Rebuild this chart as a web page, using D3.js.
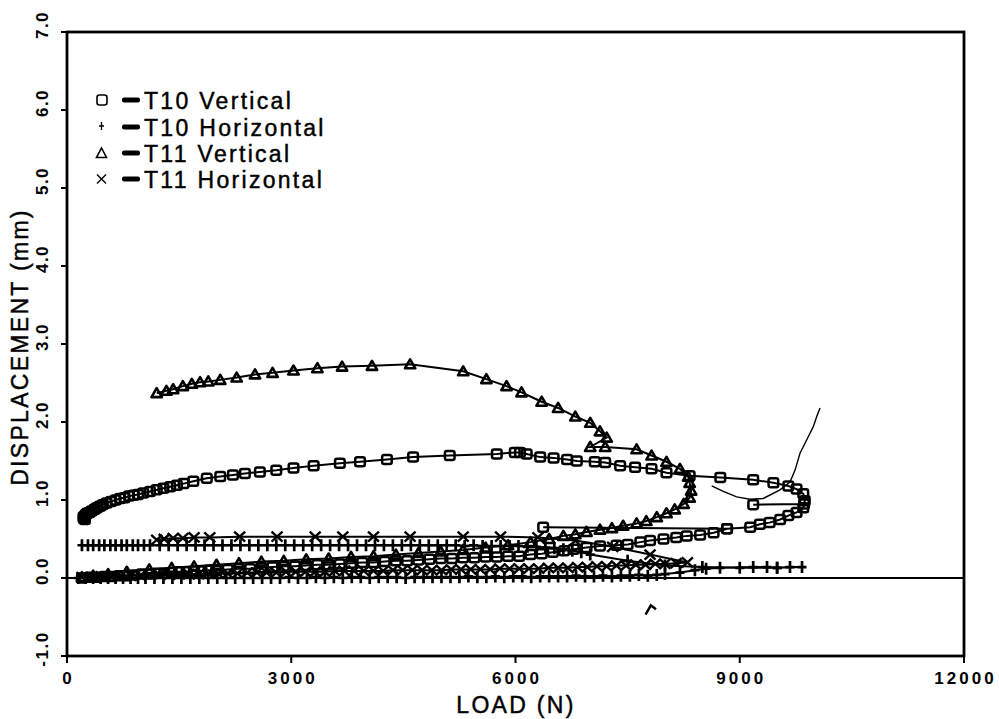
<!DOCTYPE html>
<html>
<head>
<meta charset="utf-8">
<script src="https://cdn.jsdelivr.net/npm/d3@7"></script>
<style>
  html, body { margin: 0; padding: 0; background: #fff; }
  svg { display: block; }
  text { font-family: "Liberation Sans", Arial, Helvetica, sans-serif; fill: #000; }
</style>
</head>
<body>
<svg id="chart" width="999" height="719"></svg>
<script>
// ---------------- DATA ----------------
const xTicks = [0, 3000, 6000, 9000, 12000];
const xTickLabels = ["0", "3000", "6000", "9000", "12000"];
const yTicks = [-1, 0, 1, 2, 3, 4, 5, 6, 7];
const yTickLabels = ["-1.0", "0.0", "1.0", "2.0", "3.0", "4.0", "5.0", "6.0", "7.0"];
const xTitle = "LOAD (N)";
const yTitle = "DISPLACEMENT (mm)";
const legendLabels = ["T10 Vertical", "T10 Horizontal", "T11 Vertical", "T11 Horizontal"];

// T10 Vertical (squares); null = break in the line
const t10vLoad = [200,300,400,500,600,700,800,900,1000,1100,1200,1300,1400,1500,1600,1700,1800,1900,2000,2150,2300,2450,2600,2750,2900,3050,3200,3350,3500,3650,3800,3950,4100,4250,4400,4550,4700,4850,5000,5150,5300,5450,5600,5750,5900,6050,6200,6350,6500,6650,6780,6950,7130,7350,7500,7670,7800,7980,8150,8290,8470,8650,8830,9140,9270,9400,9540,9650,9760,9850,9870,9850,9760,9650,9450,9180,8740,8330,8020,7820,7600,7400,7200,7060,6820,6690,6510,6330,6150,6060,5990,5750,5120,4630,4280,3920,3650,3300,3030,2800,2580,2380,2220,2050,1870,1690,1560,1470,1380,1290,1200,1110,1020,950,890,830,770,710,650,590,530,480,440,400,370,330,300,270,250,230,220,225,240,
  null, 6370, 8830,
  null, 9180, 9860];
const t10vDisp = [0.00,0.01,0.01,0.02,0.02,0.03,0.03,0.04,0.05,0.05,0.06,0.06,0.07,0.08,0.08,0.09,0.09,0.10,0.10,0.11,0.12,0.12,0.13,0.14,0.15,0.15,0.16,0.17,0.17,0.18,0.19,0.20,0.20,0.21,0.22,0.22,0.23,0.24,0.25,0.25,0.26,0.26,0.27,0.27,0.28,0.28,0.30,0.31,0.33,0.35,0.37,0.39,0.41,0.42,0.43,0.46,0.48,0.50,0.52,0.54,0.55,0.58,0.63,0.65,0.69,0.71,0.75,0.80,0.84,0.90,0.99,1.08,1.14,1.18,1.22,1.26,1.29,1.31,1.35,1.40,1.42,1.44,1.48,1.49,1.50,1.52,1.54,1.55,1.59,1.61,1.61,1.59,1.57,1.55,1.52,1.49,1.47,1.44,1.41,1.38,1.36,1.34,1.32,1.30,1.28,1.24,1.21,1.19,1.17,1.15,1.13,1.11,1.09,1.07,1.06,1.05,1.03,1.02,1.00,0.98,0.96,0.94,0.92,0.90,0.88,0.86,0.84,0.83,0.81,0.79,0.78,0.76,0.75,
  null, 0.65, 0.63,
  null, 0.94, 0.95];

// T10 Horizontal (plus)
const t10hLoad = [150,250,350,450,550,650,750,850,950,1050,
  1170,1290,1410,1530,1650,1770,1890,2010,2130,2250,
  2370,2490,2610,2730,2850,2970,3090,3210,3330,3450,
  3570,3690,3810,3930,4050,4170,4290,4410,4530,4650,
  4770,4890,5010,5130,5250,5370,5490,5610,5730,5850,
  5970,6090,6210,6330,6450,6570,6690,6810,6930,7050,
  7170,7290,7410,7530,7650,7770,7890,
  8000,8200,8400,8550,8736,
  9180,9365,9500,9672,9833,
  9500,9000,8500,8000,7500,
  7000,6880,6760,6640,6520,6400,6280,6160,6040,5920,
  5800,5680,5560,5440,5320,5200,5080,4960,4840,4720,
  4600,4480,4360,4240,4120,4000,3880,3760,3640,3520,
  3400,3280,3160,3040,2920,2800,2680,2560,2440,2320,
  2200,2080,1960,1840,1720,1600,1480,1360,1240,1110,
  1030,950,880,800,730,650,580,500,430,350,280,200];
const t10hDisp = [0.00,0.00,0.00,0.00,0.00,0.00,0.00,0.00,0.00,0.00,
  0.00,0.00,0.00,0.00,0.00,0.00,0.00,0.00,0.00,0.00,
  0.00,0.00,0.00,0.00,0.00,0.01,0.00,0.00,0.01,0.00,
  0.01,0.00,0.01,0.01,0.00,0.01,0.01,0.01,0.00,0.01,
  0.01,0.01,0.01,0.01,0.01,0.02,0.01,0.01,0.02,0.01,
  0.02,0.02,0.01,0.02,0.02,0.02,0.02,0.03,0.02,0.02,
  0.03,0.02,0.03,0.03,0.04,0.03,0.04,
  0.05,0.07,0.10,0.12,0.13,
  0.14,0.14,0.13,0.14,0.14,
  0.13,0.13,0.14,0.16,0.22,
  0.30,0.33,0.35,0.37,0.38,0.39,0.40,0.40,0.41,0.41,
  0.41,0.41,0.41,0.42,0.41,0.42,0.42,0.42,0.42,0.42,
  0.42,0.42,0.42,0.42,0.42,0.42,0.42,0.42,0.42,0.42,
  0.42,0.42,0.42,0.42,0.42,0.42,0.42,0.42,0.42,0.42,
  0.42,0.42,0.42,0.42,0.42,0.42,0.42,0.42,0.42,0.42,
  0.42,0.42,0.42,0.42,0.42,0.42,0.42,0.42,0.42,0.42,0.42,0.42];

// T11 Vertical (triangles)
const t11vLoad = [1200,1330,1420,1550,1670,1780,1890,2050,2270,2515,2750,3030,3350,3680,4080,4590,5300,5610,5880,6080,6350,6570,6800,7000,7130,7220,7000,7200,7620,7820,8020,8200,8310,8330,8350,8330,8250,8130,8020,7890,7750,7620,7440,7290,7130,6950,6800,6640,6450,6200,5900,5600,5300,5000,4700,4400,4100,3800,3500,3200,2900,2600,2300,2000,1700,1400,1100,800,550,350,200];
const t11vDisp = [2.37,2.40,2.42,2.46,2.49,2.51,2.52,2.54,2.57,2.61,2.63,2.66,2.69,2.71,2.72,2.74,2.65,2.55,2.46,2.38,2.26,2.18,2.07,1.99,1.88,1.80,1.68,1.68,1.65,1.57,1.49,1.40,1.30,1.22,1.12,1.03,0.95,0.88,0.83,0.78,0.73,0.70,0.67,0.64,0.62,0.59,0.56,0.54,0.50,0.46,0.42,0.39,0.36,0.34,0.32,0.30,0.28,0.27,0.25,0.24,0.22,0.21,0.19,0.17,0.15,0.13,0.11,0.08,0.05,0.03,0.01];

// T11 Horizontal (cross)
const t11hLoad = [200,330,460,590,720,850,980,1110,
  1240,1370,1500,1630,1760,1890,2020,2150,
  2280,2410,2540,2670,2800,2930,3060,3190,
  3320,3450,3580,3710,3840,3970,4100,4230,
  4360,4490,4620,4750,4880,5010,5140,5270,
  5400,5530,5660,5790,5920,6050,6180,6310,
  6440,6570,6700,6830,6960,7090,7220,7350,
  7480,7610,7740,7870,8000,8150,8300,
  7800,7300,6800,6300,5800,5300,4590,4100,3690,3320,2810,2310,1910,1700,1550,1420,1300,1200];
const t11hDisp = [0.01,0.01,0.02,0.02,0.03,0.03,0.03,0.04,
  0.04,0.04,0.05,0.05,0.05,0.06,0.06,0.06,
  0.06,0.07,0.07,0.07,0.07,0.08,0.08,0.08,
  0.08,0.08,0.09,0.09,0.09,0.09,0.09,0.09,
  0.10,0.10,0.10,0.10,0.10,0.10,0.11,0.11,
  0.11,0.11,0.11,0.12,0.12,0.12,0.12,0.12,
  0.13,0.13,0.13,0.14,0.14,0.15,0.15,0.16,
  0.16,0.17,0.17,0.18,0.18,0.19,0.20,
  0.30,0.40,0.48,0.52,0.53,0.53,0.53,0.53,0.53,0.53,0.53,0.53,0.52,0.52,0.51,0.51,0.50,0.49];

// Unmarked pen trace at right
const traceLoad = [8625,8780,8959,9137,9315,9538,9672,9739,9806,9895,9984,10030,10074];
const traceDisp = [1.18,1.11,1.04,1.01,1.02,1.13,1.23,1.38,1.60,1.77,1.94,2.07,2.18];

// Small caret mark below the zero line
const caretLoad = [7740,7810,7880];
const caretDisp = [-0.47,-0.35,-0.40];

// ---------------- DRAW ----------------
const svg = d3.select("#chart");
svg.append("rect").attr("width", 999).attr("height", 719).attr("fill", "#fff");

const x = d3.scaleLinear().domain([0, 12000]).range([67, 964]);
const y = d3.scaleLinear().domain([-1, 7]).range([656, 32]);

function zip(lx, ly) {
  return lx.map((v, i) => (v === null ? null : { x: v, y: ly[i] }));
}

const line = d3.line()
  .defined(d => d !== null)
  .x(d => x(d.x))
  .y(d => y(d.y));

// frame
svg.append("rect")
  .attr("x", x(0)).attr("y", y(7))
  .attr("width", x(12000) - x(0)).attr("height", y(-1) - y(7))
  .attr("fill", "none").attr("stroke", "#000").attr("stroke-width", 2.8);

// zero line
svg.append("line")
  .attr("x1", x(0)).attr("x2", x(12000))
  .attr("y1", y(0)).attr("y2", y(0))
  .attr("stroke", "#000").attr("stroke-width", 2.2);

// x ticks + labels
const gx = svg.append("g");
xTicks.forEach((t, i) => {
  gx.append("line").attr("x1", x(t)).attr("x2", x(t))
    .attr("y1", y(-1)).attr("y2", y(-1) + 7)
    .attr("stroke", "#000").attr("stroke-width", 2);
  gx.append("text").attr("x", x(t) + 1.5).attr("y", 684)
    .attr("text-anchor", "middle")
    .attr("font-size", 17).attr("font-weight", "bold")
    .attr("letter-spacing", 3)
    .text(xTickLabels[i]);
});

// y ticks + labels
const gy = svg.append("g");
yTicks.forEach((t, i) => {
  gy.append("line").attr("x1", x(0)).attr("x2", x(0) - 6)
    .attr("y1", y(t)).attr("y2", y(t))
    .attr("stroke", "#000").attr("stroke-width", 2);
  gy.append("text")
    .attr("transform", `translate(48,${y(t) - 7}) rotate(-90)`)
    .attr("text-anchor", "middle")
    .attr("font-size", 17).attr("font-weight", "bold")
    .attr("letter-spacing", 1.5)
    .text(yTickLabels[i]);
});

// axis titles
svg.append("text").attr("x", 516).attr("y", 713)
  .attr("text-anchor", "middle").attr("font-size", 23)
  .attr("letter-spacing", 2.3).attr("stroke", "#000").attr("stroke-width", 0.45)
  .text(xTitle);
svg.append("text")
  .attr("transform", "translate(28,347) rotate(-90)")
  .attr("text-anchor", "middle").attr("font-size", 23)
  .attr("letter-spacing", 2.3).attr("stroke", "#000").attr("stroke-width", 0.45)
  .text(yTitle);

// series
const series = [
  { name: legendLabels[0], data: zip(t10vLoad, t10vDisp), marker: "square" },
  { name: legendLabels[1], data: zip(t10hLoad, t10hDisp), marker: "plus" },
  { name: legendLabels[2], data: zip(t11vLoad, t11vDisp), marker: "triangle" },
  { name: legendLabels[3], data: zip(t11hLoad, t11hDisp), marker: "times" }
];

const plot = svg.append("g");

// thin pen trace
plot.append("path").datum(zip(traceLoad, traceDisp))
  .attr("d", line).attr("fill", "none").attr("stroke", "#000").attr("stroke-width", 1.4);
plot.append("path").datum(zip(caretLoad, caretDisp))
  .attr("d", line).attr("fill", "none").attr("stroke", "#000").attr("stroke-width", 2.4);

series.forEach(s => {
  plot.append("path").datum(s.data)
    .attr("d", line).attr("fill", "none").attr("stroke", "#000").attr("stroke-width", 2);
});

function drawMarker(g, type, cx, cy) {
  if (type === "square") {
    g.append("rect").attr("x", cx - 4.8).attr("y", cy - 4.5)
      .attr("width", 9.6).attr("height", 9).attr("rx", 2)
      .attr("fill", "none").attr("stroke", "#000").attr("stroke-width", 2.5);
  } else if (type === "triangle") {
    g.append("path")
      .attr("d", `M${cx},${cy - 5}L${cx + 5.2},${cy + 4}L${cx - 5.2},${cy + 4}Z`)
      .attr("fill", "none").attr("stroke", "#000").attr("stroke-width", 2.6).attr("stroke-linejoin", "round");
  } else if (type === "plus") {
    g.append("path")
      .attr("d", `M${cx - 4.5},${cy}H${cx + 4.5}M${cx},${cy - 6}V${cy + 6}`)
      .attr("fill", "none").attr("stroke", "#000").attr("stroke-width", 2.7);
  } else if (type === "times") {
    g.append("path")
      .attr("d", `M${cx - 5.5},${cy - 5}L${cx + 5.5},${cy + 5}M${cx + 5.5},${cy - 5}L${cx - 5.5},${cy + 5}`)
      .attr("fill", "none").attr("stroke", "#000").attr("stroke-width", 2.4);
  }
}

series.forEach(s => {
  const g = plot.append("g");
  s.data.filter(d => d !== null).forEach(d => drawMarker(g, s.marker, x(d.x), y(d.y)));
});

// legend
const legend = svg.append("g");
const legendRowsY = [100, 127, 153, 179];
series.forEach((s, i) => {
  const cy = legendRowsY[i];
  const lg = legend.append("g");
  if (s.marker === "plus") {
    lg.append("path").attr("d", `M${99},${cy - 1}H${104}M${101.5},${cy - 5}V${cy + 3}`)
      .attr("stroke", "#000").attr("stroke-width", 1.3).attr("fill", "none");
  } else if (s.marker === "times") {
    lg.append("path").attr("d", `M${97},${cy - 4.5}L${106},${cy + 4.5}M${106},${cy - 4.5}L${97},${cy + 4.5}`)
      .attr("stroke", "#000").attr("stroke-width", 1.4).attr("fill", "none");
  } else if (s.marker === "triangle") {
    lg.append("path").attr("d", `M${101.5},${cy - 5}L${106.5},${cy + 4.5}L${96.5},${cy + 4.5}Z`)
      .attr("stroke", "#000").attr("stroke-width", 1.6).attr("fill", "none");
  } else {
    lg.append("rect").attr("x", 97).attr("y", cy - 5).attr("width", 10).attr("height", 10).attr("rx", 2.5)
      .attr("stroke", "#000").attr("stroke-width", 1.6).attr("fill", "none");
  }
  lg.append("rect").attr("x", 122).attr("y", cy - 2.5).attr("width", 18).attr("height", 5).attr("rx", 2)
    .attr("fill", "#000");
  lg.append("text").attr("x", 144).attr("y", cy + 9)
    .attr("font-size", 23).attr("letter-spacing", 2.3)
    .attr("stroke", "#000").attr("stroke-width", 0.45)
    .text(s.name);
});
</script>
</body>
</html>
